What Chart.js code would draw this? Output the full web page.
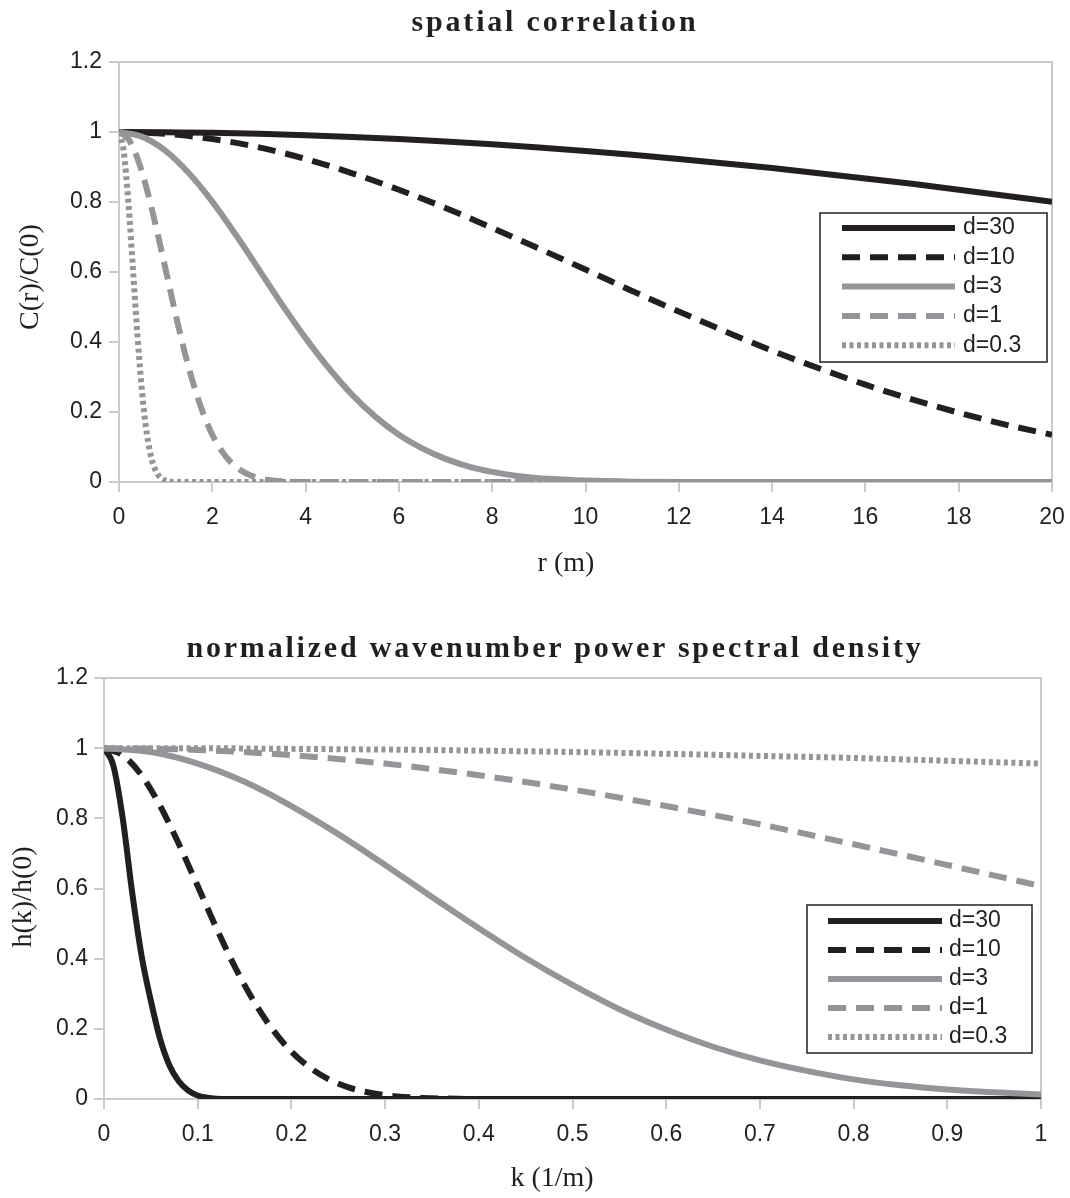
<!DOCTYPE html>
<html>
<head>
<meta charset="utf-8">
<script src="https://cdn.jsdelivr.net/npm/chart.js@4"></script>
<style>
  html, body { margin: 0; padding: 0; background: #fff; overflow: hidden; }
  #page { position: relative; width: 1070px; height: 1198px; }
  .panel { position: absolute; left: 0; }
  .ctitle { position: absolute; left: 40px; width: 1030px; text-align: center; font: bold 30px 'Liberation Serif', 'Times New Roman', serif; letter-spacing: 2.8px; line-height: 34px; color: #231f20; white-space: nowrap; }
  .atitle { position: absolute; width: 400px; text-align: center; font: 28px 'Liberation Serif', 'Times New Roman', serif; line-height: 34px; height: 34px; color: #231f20; white-space: nowrap; }
  .vtitle { transform: rotate(-90deg); transform-origin: 50% 50%; }
</style>
</head>
<body>
<div id="page">
  <div class="panel" style="top:0"><canvas id="corr" width="1070" height="600"></canvas></div>
  <div class="panel" style="top:600px"><canvas id="psd" width="1070" height="598"></canvas></div>

  <div class="ctitle" style="top:4px">spatial correlation</div>
  <div class="atitle" style="left:366px; top:545px">r (m)</div>
  <div class="atitle vtitle" style="left:-171px; top:260px">C(r)/C(0)</div>

  <div class="ctitle" style="top:630px">normalized wavenumber power spectral density</div>
  <div class="atitle" style="left:352px; top:1160px">k (1/m)</div>
  <div class="atitle vtitle" style="left:-178px; top:880px">h(k)/h(0)</div>
</div>
<script>
const INK = '#231f20';
const GREY = '#949598';
const AXIS = '#cacaca';
const TICK_FONT = { family: "'Liberation Sans', Arial, sans-serif", size: 23 };

const seriesLabels = ['d=30', 'd=10', 'd=3', 'd=1', 'd=0.3'];

// spatial correlation C(r)/C(0), r in metres
const rTicks = [0, 2, 4, 6, 8, 10, 12, 14, 16, 18, 20];
const rTickLabels = ['0', '2', '4', '6', '8', '10', '12', '14', '16', '18', '20'];
const corrTicks = [0, 0.2, 0.4, 0.6, 0.8, 1, 1.2];
const corrTickLabels = ['0', '0.2', '0.4', '0.6', '0.8', '1', '1.2'];

const rCoarse = [0, 1, 2, 3, 4, 5, 6, 7, 8, 9, 10, 11, 12, 13, 14, 15, 16, 17, 18, 19, 20];
const c30 = [1, 0.999, 0.998, 0.995, 0.991, 0.986, 0.980, 0.973, 0.965, 0.956, 0.946, 0.935, 0.923, 0.910, 0.897, 0.882, 0.867, 0.852, 0.835, 0.818, 0.801];
const c10 = [1, 0.995, 0.980, 0.956, 0.923, 0.882, 0.835, 0.783, 0.726, 0.667, 0.607, 0.546, 0.487, 0.430, 0.375, 0.325, 0.278, 0.236, 0.198, 0.164, 0.135];

const rMid = [0, 0.5, 1, 1.5, 2, 2.5, 3, 3.5, 4, 4.5, 5, 5.5, 6, 6.5, 7, 7.5, 8, 8.5, 9, 9.5, 10, 11, 12, 14, 16, 18, 20];
const c3 = [1, 0.986, 0.946, 0.882, 0.801, 0.707, 0.607, 0.506, 0.411, 0.325, 0.249, 0.186, 0.135, 0.096, 0.066, 0.044, 0.029, 0.018, 0.011, 0.007, 0.004, 0.001, 0, 0, 0, 0, 0];

const rFine = [0, 0.2, 0.4, 0.6, 0.8, 1, 1.2, 1.4, 1.6, 1.8, 2, 2.2, 2.4, 2.6, 2.8, 3, 3.2, 3.4, 3.6, 4, 5, 6, 8, 10, 12, 14, 16, 18, 20];
const c1 = [1, 0.980, 0.923, 0.835, 0.726, 0.607, 0.487, 0.375, 0.278, 0.198, 0.135, 0.089, 0.056, 0.034, 0.020, 0.011, 0.006, 0.003, 0.0015, 0.0003, 0, 0, 0, 0, 0, 0, 0, 0, 0];

const rNear = [0, 0.1, 0.2, 0.3, 0.4, 0.5, 0.6, 0.7, 0.8, 0.9, 1, 1.1, 1.2, 1.4, 2, 20];
const c03 = [1, 0.946, 0.801, 0.607, 0.411, 0.249, 0.135, 0.066, 0.029, 0.011, 0.004, 0.001, 0, 0, 0, 0];

// normalized wavenumber PSD h(k)/h(0), k in 1/m
const kTicks = [0, 0.1, 0.2, 0.3, 0.4, 0.5, 0.6, 0.7, 0.8, 0.9, 1];
const kTickLabels = ['0', '0.1', '0.2', '0.3', '0.4', '0.5', '0.6', '0.7', '0.8', '0.9', '1'];
const psdTicks = [0, 0.2, 0.4, 0.6, 0.8, 1, 1.2];
const psdTickLabels = ['0', '0.2', '0.4', '0.6', '0.8', '1', '1.2'];

const k30 = [0, 0.01, 0.02, 0.03, 0.04, 0.05, 0.06, 0.07, 0.08, 0.09, 0.1, 0.11, 0.12, 0.13, 0.15, 1];
const h30 = [1, 0.95, 0.80, 0.59, 0.41, 0.28, 0.17, 0.095, 0.05, 0.024, 0.01, 0.004, 0.001, 0, 0, 0];

const k10 = [0, 0.02, 0.04, 0.06, 0.08, 0.1, 0.12, 0.14, 0.16, 0.18, 0.2, 0.22, 0.24, 0.26, 0.28, 0.3, 0.32, 0.34, 0.36, 0.4, 0.5, 1];
const h10 = [1, 0.980, 0.923, 0.835, 0.726, 0.607, 0.487, 0.375, 0.278, 0.198, 0.135, 0.089, 0.056, 0.034, 0.020, 0.011, 0.006, 0.003, 0.0015, 0, 0, 0];

const k3 = [0, 0.05, 0.1, 0.15, 0.2, 0.25, 0.3, 0.35, 0.4, 0.45, 0.5, 0.55, 0.6, 0.65, 0.7, 0.75, 0.8, 0.85, 0.9, 0.95, 1];
const h3 = [1, 0.989, 0.956, 0.904, 0.835, 0.755, 0.667, 0.576, 0.487, 0.402, 0.325, 0.256, 0.198, 0.149, 0.110, 0.080, 0.056, 0.039, 0.027, 0.019, 0.013];

const kCoarse = [0, 0.1, 0.2, 0.3, 0.4, 0.5, 0.6, 0.7, 0.8, 0.9, 1];
const h1 = [1, 0.995, 0.980, 0.956, 0.923, 0.882, 0.835, 0.783, 0.726, 0.667, 0.607];
const h03 = [1, 1, 0.998, 0.996, 0.993, 0.989, 0.984, 0.978, 0.972, 0.964, 0.956];

// line styles, same order as seriesLabels
const STYLES = [
  { color: INK, dash: [] },
  { color: INK, dash: [18, 10] },
  { color: GREY, dash: [] },
  { color: GREY, dash: [18, 10] },
  { color: GREY, dash: [4, 3.5] }
];

// light grey frame round the plot area
const plotFrame = {
  id: 'plotFrame',
  beforeDatasetsDraw(chart) {
    const { ctx, chartArea: a } = chart;
    ctx.save();
    ctx.strokeStyle = AXIS;
    ctx.lineWidth = 2;
    ctx.strokeRect(a.left, a.top, a.right - a.left, a.bottom - a.top);
    ctx.restore();
  }
};

// boxed legend inside the plot, drawn with each dataset's own stroke
const boxLegend = {
  id: 'boxLegend',
  afterDatasetsDraw(chart, args, o) {
    const { ctx, chartArea } = chart;
    const x = chartArea.right - o.right - o.width;
    const y = chartArea.top + o.top;
    ctx.save();
    ctx.fillStyle = '#fff';
    ctx.fillRect(x, y, o.width, o.height);
    ctx.lineWidth = 1.5;
    ctx.strokeStyle = INK;
    ctx.strokeRect(x, y, o.width, o.height);
    chart.data.datasets.forEach((ds, i) => {
      const cy = y + o.firstRow + i * o.rowGap;
      ctx.beginPath();
      ctx.setLineDash(ds.borderDash);
      ctx.lineCap = 'butt';
      ctx.lineWidth = ds.borderWidth;
      ctx.strokeStyle = ds.borderColor;
      ctx.moveTo(x + o.sampleLeft, cy);
      ctx.lineTo(x + o.sampleLeft + o.sampleWidth, cy);
      ctx.stroke();
      ctx.setLineDash([]);
      ctx.fillStyle = INK;
      ctx.font = "23px 'Liberation Sans', Arial, sans-serif";
      ctx.textBaseline = 'middle';
      ctx.fillText(ds.label, x + o.textLeft, cy);
    });
    ctx.restore();
  }
};

function axis(min, max, ticks, labels, fitSize, horizontal, pad) {
  return {
    type: 'linear',
    min, max,
    afterBuildTicks: s => { s.ticks = ticks.map(value => ({ value })); },
    // fixed scale box so the plot area does not move with label widths
    afterFit: s => {
      if (horizontal) { s.height = fitSize; s.paddingLeft = 0; s.paddingRight = 0; }
      else { s.width = fitSize; s.paddingTop = 0; s.paddingBottom = 0; }
    },
    ticks: {
      callback: (v, i) => labels[i],
      autoSkip: false, maxRotation: 0,
      padding: pad,
      color: INK,
      font: TICK_FONT
    },
    grid: { drawOnChartArea: false, drawTicks: true, tickLength: 10, color: AXIS, lineWidth: 2 },
    border: { display: false }
  };
}

function makeChart(id, xs, ys, scales, padding, legendOpts) {
  const datasets = seriesLabels.map((label, i) => ({
    label,
    data: xs[i].map((x, j) => ({ x, y: ys[i][j] })),
    borderColor: STYLES[i].color,
    borderDash: STYLES[i].dash,
    borderWidth: 6,
    borderCapStyle: 'butt',
    pointRadius: 0,
    fill: false,
    cubicInterpolationMode: 'monotone',
    order: seriesLabels.length - i
  }));
  return new Chart(document.getElementById(id), {
    type: 'line',
    data: { datasets },
    options: {
      responsive: false,
      animation: false,
      layout: { padding },
      scales,
      plugins: {
        legend: { display: false },
        tooltip: { enabled: false },
        boxLegend: legendOpts
      }
    },
    plugins: [plotFrame, boxLegend]
  });
}

makeChart('corr',
  [rCoarse, rCoarse, rMid, rFine, rNear],
  [c30, c10, c3, c1, c03],
  {
    x: axis(0, 20, rTicks, rTickLabels, 118, true, 12),
    y: axis(0, 1.2, corrTicks, corrTickLabels, 119, false, 7)
  },
  { top: 62, right: 18, left: 0, bottom: 0 },
  { right: 5, top: 151, width: 227, height: 149, firstRow: 15, rowGap: 29.3, sampleLeft: 22, sampleWidth: 113, textLeft: 143 }
);

makeChart('psd',
  [k30, k10, k3, kCoarse, kCoarse],
  [h30, h10, h3, h1, h03],
  {
    x: axis(0, 1, kTicks, kTickLabels, 99, true, 12),
    y: axis(0, 1.2, psdTicks, psdTickLabels, 104, false, 6)
  },
  { top: 78, right: 29, left: 0, bottom: 0 },
  { right: 9, top: 227, width: 225, height: 148, firstRow: 16, rowGap: 29, sampleLeft: 21, sampleWidth: 114, textLeft: 142 }
);
</script>
</body>
</html>
